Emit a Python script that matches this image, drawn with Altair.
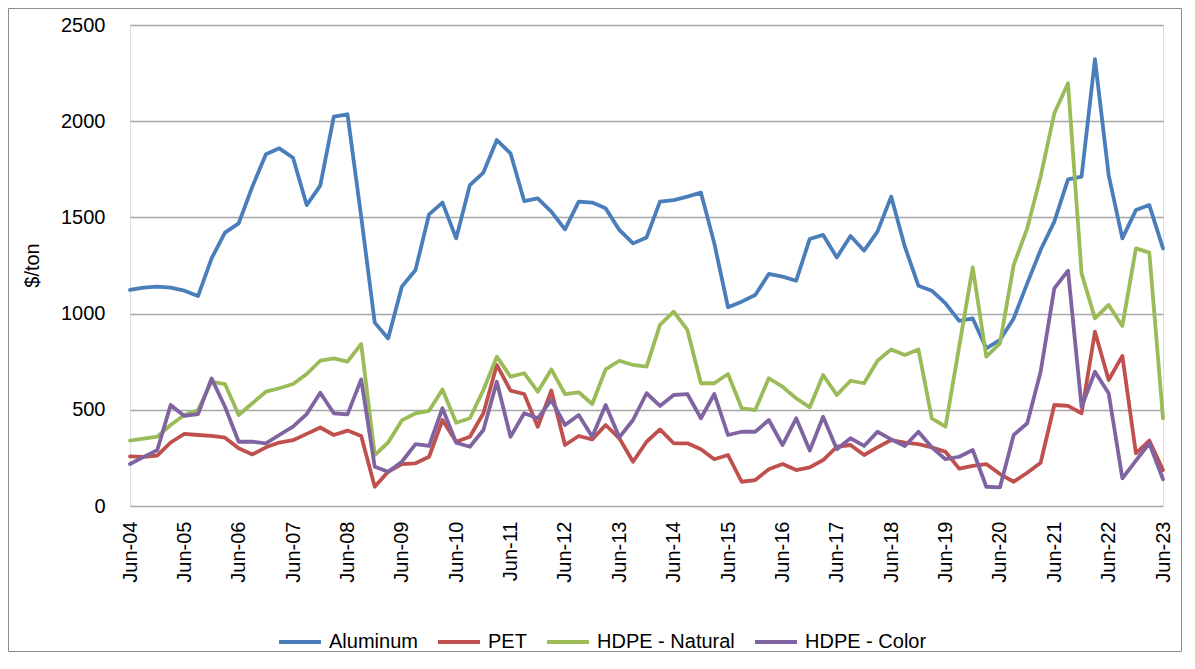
import altair as alt
import pandas as pd

# Quarterly observations, Jun-04 .. Jun-23
dates = [f"{2004 + (5 + 3 * k) // 12}-{(5 + 3 * k) % 12 + 1:02d}-01" for k in range(77)]

aluminum = [1123, 1135, 1140, 1135, 1119, 1091, 1287, 1421, 1469, 1660, 1828, 1859, 1810, 1564, 1665,
            2024, 2036, 1504, 953, 871, 1140, 1227, 1516, 1577, 1391, 1668, 1733, 1902, 1833, 1585, 1599,
            1530, 1438, 1582, 1577, 1547, 1435, 1365, 1396, 1582, 1590, 1608, 1629, 1365, 1033, 1062,
            1097, 1206, 1192, 1171, 1388, 1409, 1292, 1403, 1327, 1426, 1608, 1348, 1145, 1119, 1053,
            962, 975, 819, 863, 975, 1157, 1331, 1478, 1698, 1712, 2322, 1720, 1391, 1538, 1564, 1339]
pet = [258, 255, 262, 330, 375, 369, 364, 355, 300, 268, 305, 330, 342, 375, 408,
       369, 392, 364, 100, 178, 218, 222, 256, 447, 334, 360, 482, 733, 600, 582, 412,
       600, 317, 364, 346, 421, 352, 230, 334, 398, 326, 326, 295, 243, 265, 126,
       135, 191, 218, 187, 201, 239, 308, 317, 265, 305, 343, 329, 322, 305, 282,
       194, 208, 218, 166, 126, 173, 225, 525, 520, 482, 906, 655, 780, 274, 340, 187]
hdpe_natural = [340, 350, 360, 421, 473, 499, 646, 634, 473, 534, 594, 612, 634, 686, 755,
                767, 750, 842, 265, 330, 445, 482, 495, 606, 433, 456, 603, 776, 672, 690, 594,
                710, 582, 591, 530, 710, 755, 733, 724, 941, 1010, 915, 638, 638, 686, 508,
                499, 664, 620, 560, 513, 681, 577, 651, 638, 755, 814, 785, 814, 456, 412,
                830, 1240, 776, 845, 1253, 1443, 1712, 2041, 2197, 1209, 975, 1045, 936, 1339, 1317, 456]
hdpe_color = [218, 255, 290, 525, 468, 478, 663, 516, 334, 334, 326, 369, 412, 478, 589,
              482, 476, 658, 204, 178, 230, 322, 312, 508, 329, 308, 395, 646, 360, 482, 456,
              551, 421, 473, 360, 525, 357, 447, 586, 520, 577, 582, 456, 582, 369, 386,
              386, 447, 317, 456, 288, 464, 295, 352, 312, 386, 346, 312, 386, 305, 243,
              256, 291, 100, 97, 369, 430, 698, 1131, 1223, 516, 698, 586, 144, 236, 326, 139]

series_names = ["Aluminum", "PET", "HDPE - Natural", "HDPE - Color"]
series_colors = ["#4a7ebb", "#c0504d", "#9bbb59", "#8064a2"]
y_ticks = [0, 500, 1000, 1500, 2000, 2500]
x_tick_years = list(range(2004, 2024))

rows = []
for name, vals in zip(series_names, [aluminum, pet, hdpe_natural, hdpe_color]):
    for d, v in zip(dates, vals):
        rows.append({"date": d, "series": name, "value": v})
df = pd.DataFrame(rows)


def ms(s):
    return int(pd.Timestamp(s, tz="UTC").timestamp() * 1000)


x_ticks = [ms(f"{y}-06-01") for y in x_tick_years]
FONT = "Liberation Sans"

lines = alt.Chart(df).mark_line(strokeWidth=3.8, strokeJoin="round", strokeCap="round").encode(
    x=alt.X("date:T",
            scale=alt.Scale(type="utc", domain=[ms(dates[0]), ms(dates[-1])], nice=False),
            axis=alt.Axis(values=x_ticks, labelExpr="utcFormat(datum.value, '%b-%y')",
                          labelAngle=270, labelPadding=15, ticks=False, domain=False, grid=False,
                          labelFontSize=20, labelFont=FONT, labelColor="#000000", title=None)),
    y=alt.Y("value:Q",
            scale=alt.Scale(domain=[0, 2500], nice=False),
            axis=alt.Axis(values=y_ticks, format="d", title="$/ton", titleFontSize=20, titleFont=FONT,
                          titleFontWeight="normal", titleColor="#000000",
                          titleX=-98, titleY=240, titleAngle=270, titleAlign="center",
                          titleBaseline="middle",
                          labelFontSize=20, labelFont=FONT, labelColor="#000000", labelPadding=25,
                          ticks=False, domain=False, grid=True, gridColor="#a6a6a6", gridWidth=1.5)),
    color=alt.Color("series:N", sort=series_names,
                    scale=alt.Scale(domain=series_names, range=series_colors),
                    legend=alt.Legend(orient="none", legendX=147, legendY=594, direction="horizontal",
                                      title=None, symbolType="stroke", symbolSize=1764,
                                      symbolStrokeWidth=4, labelFontSize=20, labelFont=FONT,
                                      labelColor="#000000", labelOffset=6, columnPadding=12,
                                      labelLimit=400)),
    detail="series:N",
)

frame = alt.Chart(pd.DataFrame({"f": [0]})).mark_rect(
    fillOpacity=0, stroke="#8c8c8c", strokeWidth=1
).encode(
    x=alt.value(-121.5), x2=alt.value(1051.5), y=alt.value(-16.5), y2=alt.value(626.5)
)

chart = alt.layer(lines, frame).properties(
    width=1033, height=481,
    padding={"left": 122, "top": 17, "right": 20, "bottom": 147},
    autosize=alt.AutoSizeParams(type="none"),
).configure_view(strokeWidth=0).configure(font=FONT)

chart.save("out.html", embed_options={"renderer": "svg", "actions": False})
